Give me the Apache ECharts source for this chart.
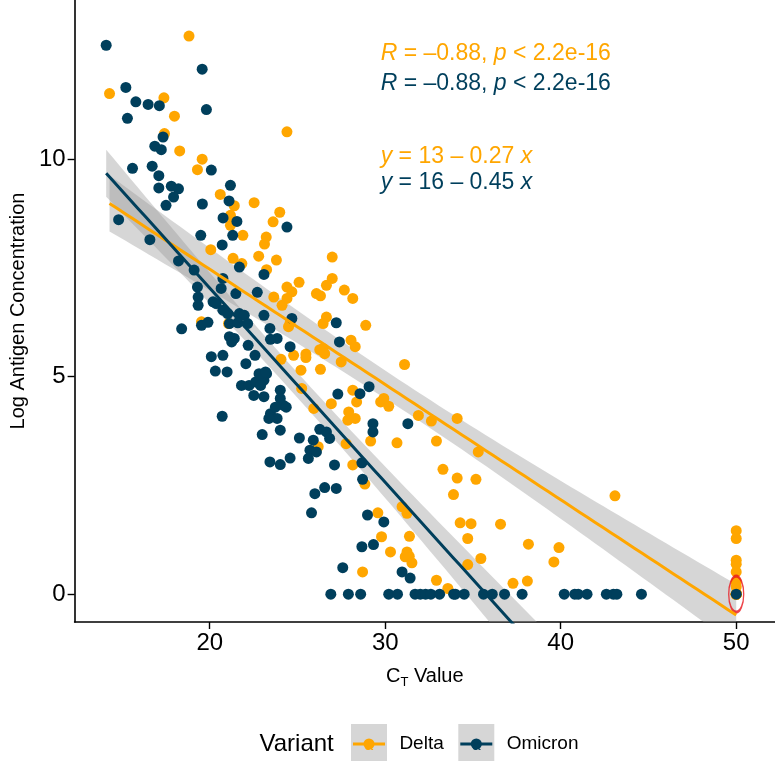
<!DOCTYPE html>
<html><head><meta charset="utf-8">
<script src="https://cdn.jsdelivr.net/npm/echarts@6/dist/echarts.min.js"></script>
<style>html,body{margin:0;padding:0;background:#fff;overflow:hidden}#c{width:775px;height:761px}</style>
</head><body><div id="c"></div>
<script>
// ---- data ----
// several Delta samples sit on top of each other at (50, 0), hidden under the Omicron point
const deltaCt = [18.82,14.29,17.39,17.99,17.42,18.29,19.57,19.30,20.60,22.53,24.40,21.40,23.99,21.18,21.18,23.61,21.89,23.22,23.12,20.06,22.79,21.33,23.80,26.98,21.83,23.24,26.98,26.65,27.67,28.15,26.08,26.31,25.09,24.40,24.68,23.65,24.12,24.40,19.53,21.07,24.58,26.65,26.46,28.05,26.46,28.89,24.49,28.29,24.78,25.48,25.48,26.27,26.55,27.49,25.20,26.31,31.10,28.15,28.37,29.74,29.92,30.20,26.93,25.93,27.92,27.87,28.29,31.89,32.63,29.17,30.67,32.92,27.77,26.18,28.15,24.06,25.24,34.10,35.30,28.84,33.29,34.10,35.17,33.89,30.96,31.24,29.58,34.27,34.89,36.57,34.70,29.79,31.38,38.16,30.30,31.24,31.37,31.14,31.52,35.45,28.71,32.92,33.57,37.28,38.10,34.70,39.90,39.61,43.09,50,50,50,50,50,50,50,50,50,50,50,50,50,50,50,50,50,50,50,50];
const deltaAg = [12.83,11.51,11.41,10.99,10.59,10.19,10.00,9.76,9.19,9.00,10.63,8.93,8.78,8.71,8.48,8.56,8.25,8.21,8.05,7.92,7.77,7.72,7.68,7.75,7.60,7.46,7.26,7.10,6.99,6.80,6.91,6.86,7.17,7.06,6.95,6.83,6.64,6.80,6.26,6.22,6.24,6.37,6.22,5.84,5.65,6.18,6.15,5.69,5.49,5.52,5.44,5.62,5.53,5.34,5.15,5.17,5.28,4.69,4.42,4.42,4.50,4.32,4.38,4.27,4.19,4.00,4.04,4.11,3.98,3.52,3.48,3.52,3.46,3.39,2.97,5.40,4.73,4.04,3.27,2.53,2.87,2.67,2.64,2.29,2.01,1.86,1.87,1.64,1.62,1.61,1.28,1.32,1.33,1.15,0.97,0.97,0.87,0.86,0.72,0.82,0.51,0.32,0.13,0.25,0.30,0.68,1.07,0.74,2.26,1.46,1.28,0.78,0.69,0.51,0.28,0.17,0,0,0,0,0,0,0,0,0,0,0,0,0];
const omicronCt = [14.10,19.57,15.22,15.79,16.49,17.13,15.31,19.81,17.34,16.87,17.24,15.60,16.72,17.10,20.09,17.10,17.81,18.22,17.94,21.18,21.10,17.51,19.58,20.76,21.55,24.40,21.31,20.71,19.49,14.81,16.59,18.22,19.11,21.69,23.09,20.75,19.30,20.65,19.34,19.34,22.71,21.49,20.19,20.37,20.75,21.03,21.69,21.97,23.09,21.12,18.40,19.53,19.90,21.60,22.16,24.68,27.21,23.43,23.84,23.46,24.58,21.12,21.40,21.25,22.19,27.39,22.06,22.58,20.09,20.75,20.32,20.99,21.81,22.24,22.62,22.51,23.09,23.09,23.24,22.81,23.18,22.90,20.71,23.46,23.84,24.02,23.37,24.02,24.02,24.21,24.36,23.74,22.99,25.11,26.27,26.65,26.83,25.90,25.71,26.08,25.62,23.43,24.02,24.58,27.11,27.21,25.99,26.55,25.80,27.30,28.56,29.08,29.30,29.30,31.29,28.67,28.71,28.99,29.92,28.67,29.33,27.58,30.96,31.42,26.9,27.9,28.6,30.2,30.7,31.7,32.0,32.3,32.6,33.1,33.9,34.0,34.5,35.6,36.1,36.8,37.8,40.2,40.8,41.0,41.5,42.6,43.0,43.2,44.6,50.0];
const omicronAg = [12.62,12.07,11.65,11.32,11.26,11.23,10.94,11.14,10.51,10.30,10.22,9.79,9.84,9.62,9.75,9.34,9.38,9.32,9.13,9.40,9.04,8.94,8.97,8.65,8.57,8.44,8.25,8.03,8.25,8.61,8.15,7.66,7.45,7.52,7.35,7.26,7.06,7.03,6.83,6.64,6.94,6.91,6.72,6.68,6.53,6.45,6.45,6.41,6.41,6.22,6.10,6.18,6.25,6.24,6.22,6.34,6.24,6.11,5.88,5.86,5.69,5.92,5.88,5.80,5.72,5.80,5.30,5.49,5.46,5.49,5.13,5.11,4.80,4.80,4.88,4.57,4.54,4.92,5.07,5.07,5.11,4.80,4.09,4.15,4.04,3.77,4.04,4.69,4.50,4.34,4.30,4.30,3.67,3.59,3.79,3.73,3.58,3.54,3.31,3.27,3.12,3.04,2.98,3.13,2.97,2.43,2.31,2.45,1.87,4.60,4.61,4.77,3.92,3.73,3.92,3.02,2.64,1.82,1.66,1.09,1.14,0.61,0.51,0.37,0,0,0,0,0,0,0,0,0,0,0,0,0,0,0,0,0,0,0,0,0,0,0,0,0,0];
// fitted lines as drawn in the reference: [intercept, slope]
const deltaFit = [12.77, -0.265];
const omicronFit = [15.98, -0.447];
const xTicks = [20, 30, 40, 50];
const yTicks = [0, 5, 10];
const corLabel = ['R', ' = \u20130.88, ', 'p', ' < 2.2e-16'];
const deltaEq = ['y', ' = 13 \u2013 0.27 ', 'x'];
const omicronEq = ['y', ' = 16 \u2013 0.45 ', 'x'];
const highlight = [[50, 0]];

const COL = { Delta: '#ffa600', Omicron: '#003f5c' };
const FONT = '"Liberation Sans", Arial, Helvetica, sans-serif';
const BAND = 'rgba(153,153,153,0.4)';

// ---- line with 95% confidence band (geom_smooth(method = "lm") style) ----
function tq975(df){
  const z = 1.959964;
  return z + (z*z*z + z)/(4*df) + (5*Math.pow(z,5)+16*z*z*z+3*z)/(96*df*df);
}
function smooth(xs, ys, coef){
  const n = xs.length, a = coef[0], b = coef[1];
  const mx = xs.reduce((p,q)=>p+q,0)/n;
  let sxx = 0, sse = 0;
  for (let i=0;i<n;i++){ sxx += (xs[i]-mx)**2; sse += (ys[i]-a-b*xs[i])**2; }
  const s = Math.sqrt(sse/(n-2)), t = tq975(n-2);
  const lo = Math.min(...xs), hi = Math.max(...xs);
  const line = [], up = [], dn = [];
  const K = 80;
  for (let k=0;k<=K;k++){
    const x = lo + (hi-lo)*k/K, yh = a + b*x;
    const se = s*Math.sqrt(1/n + (x-mx)**2/sxx);
    line.push([x, yh]); up.push([x, yh + t*se]); dn.push([x, yh - t*se]);
  }
  return { line, up, dn };
}
const fD = smooth(deltaCt, deltaAg, deltaFit), fO = smooth(omicronCt, omicronAg, omicronFit);
const zip = (a,b) => a.map((v,i)=>[v,b[i]]);

function bandSeries(f){
  return {
    type: 'custom', data: [0], clip: true, silent: true,
    renderItem: function(params, api){
      const pts = f.up.map(p=>api.coord(p)).concat(f.dn.slice().reverse().map(p=>api.coord(p)));
      return { type: 'polygon', shape: { points: pts }, style: { fill: BAND } };
    }
  };
}
function lineSeries(f, c){
  return { type: 'line', data: f.line, showSymbol: false, clip: true, silent: true,
    lineStyle: { color: c, width: 3 }, itemStyle: { color: c } };
}

const chart = echarts.init(document.getElementById('c'), null, { renderer: 'canvas' });

function richText(x, y, parts, color){
  // parts alternate italic / normal, starting with italic
  const s = parts.map((p,i)=> '{' + (i%2===0 ? 'i' : 'n') + '|' + p + '}').join('');
  return { type: 'text', x: x, y: y, silent: true,
    style: { text: s, fill: color, font: '23px ' + FONT, verticalAlign: 'middle',
      rich: { i: { fontStyle: 'italic', fontSize: 23, fontFamily: FONT, fill: color },
              n: { fontSize: 23, fontFamily: FONT, fill: color } } } };
}

function legendKey(x, name, c, textX){
  return [
    { type: 'rect', shape: { x: x, y: 724, width: 36, height: 40 }, style: { fill: BAND } },
    { type: 'line', shape: { x1: x + 2, y1: 744, x2: x + 34, y2: 744 }, style: { stroke: c, lineWidth: 3 } },
    { type: 'circle', shape: { cx: x + 18, cy: 744, r: 5.5 }, style: { fill: c } },
    { type: 'text', x: x + 18, y: 746, style: { text: 'a', fill: c, font: '15px ' + FONT, align: 'center', verticalAlign: 'middle' } },
    { type: 'text', x: textX, y: 744, style: { text: name, fill: '#000', font: '19px ' + FONT, verticalAlign: 'middle' } }
  ];
}

const option = {
  animation: false,
  backgroundColor: '#fff',
  textStyle: { fontFamily: FONT },
  grid: { left: 64.8, top: 0, width: 710.3, height: 622, containLabel: false },
  xAxis: {
    type: 'value', min: 12.3, max: 52.21,
    axisLine: { show: true, onZero: false, lineStyle: { color: '#000', width: 1.6 } },
    axisTick: { show: true, length: 7, customValues: xTicks, lineStyle: { color: '#000', width: 1.4 } },
    axisLabel: { customValues: xTicks, fontSize: 24, color: '#000', margin: 9, fontFamily: FONT },
    splitLine: { show: false },
    name: '{c|C}{t|T}{v| Value}', nameLocation: 'middle', nameGap: 42,
    nameTextStyle: { fontFamily: FONT, color: '#000',
      rich: { c: { fontSize: 20, fontFamily: FONT, color: '#000', lineHeight: 22, verticalAlign: 'bottom' },
              t: { fontSize: 13, fontFamily: FONT, color: '#000', lineHeight: 13, verticalAlign: 'bottom', padding: [0,0,-3,0] },
              v: { fontSize: 20, fontFamily: FONT, color: '#000', lineHeight: 22, verticalAlign: 'bottom' } } }
  },
  yAxis: {
    type: 'value', min: -0.64, max: 13.66,
    axisLine: { show: true, onZero: false, lineStyle: { color: '#000', width: 1.6 } },
    axisTick: { show: true, length: 7, customValues: yTicks, lineStyle: { color: '#000', width: 1.4 } },
    axisLabel: { customValues: yTicks, fontSize: 24, color: '#000', margin: 9, fontFamily: FONT },
    splitLine: { show: false },
    name: 'Log Antigen Concentration', nameLocation: 'middle', nameGap: 44, nameRotate: 90,
    nameTextStyle: { fontSize: 20, color: '#000', fontFamily: FONT }
  },
  series: [
    { type: 'scatter', name: 'Delta', data: zip(deltaCt, deltaAg), symbolSize: 11, itemStyle: { color: COL.Delta, opacity: 1 }, silent: true },
    { type: 'scatter', name: 'Omicron', data: zip(omicronCt, omicronAg), symbolSize: 11, itemStyle: { color: COL.Omicron, opacity: 1 }, silent: true },
    bandSeries(fD), lineSeries(fD, COL.Delta),
    bandSeries(fO), lineSeries(fO, COL.Omicron),
    { type: 'scatter', data: highlight, symbol: 'circle', symbolSize: [15, 36], silent: true,
      itemStyle: { color: 'rgba(0,0,0,0)', borderColor: '#e8141c', borderWidth: 2 } }
  ],
  graphic: [
    richText(380.7, 54, corLabel, COL.Delta),
    richText(380.7, 84, corLabel, COL.Omicron),
    richText(380.7, 157, deltaEq, COL.Delta),
    richText(380.7, 183, omicronEq, COL.Omicron),
    { type: 'text', x: 259.5, y: 744, style: { text: 'Variant', fill: '#000', font: '24px ' + FONT, verticalAlign: 'middle' } }
  ].concat(legendKey(351, 'Delta', COL.Delta, 399.4), legendKey(458.3, 'Omicron', COL.Omicron, 506.7))
};
chart.setOption(option);
</script></body></html>
